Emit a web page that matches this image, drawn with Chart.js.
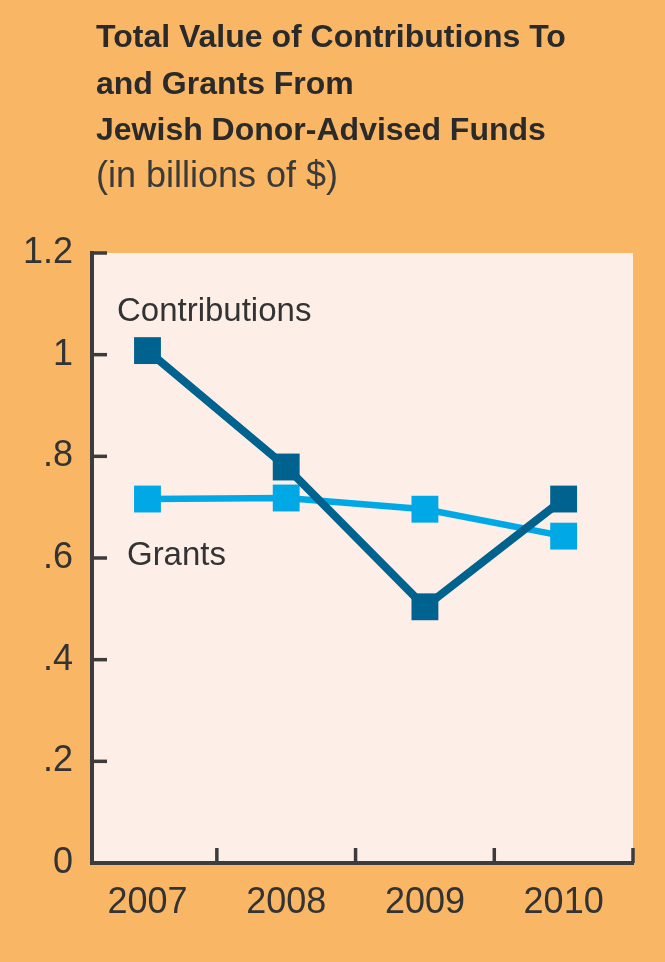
<!DOCTYPE html>
<html>
<head>
<meta charset="utf-8">
<script src="https://cdn.jsdelivr.net/npm/chart.js@4.4.1/dist/chart.umd.min.js"></script>
<style>
html, body { margin: 0; padding: 0; background: #F9B766; }
#wrap { position: relative; width: 665px; height: 962px; }
</style>
</head>
<body>
<div id="wrap"><canvas id="c"></canvas></div>
<script>
// ---- data ----
const years = ['2007', '2008', '2009', '2010'];
const contributions = [1.008, 0.779, 0.504, 0.716];
const grants = [0.716, 0.718, 0.696, 0.643];
const yTickValues = [0, 0.2, 0.4, 0.6, 0.8, 1.0, 1.2];
const yTickLabels = ['0', '.2', '.4', '.6', '.8', '1', '1.2'];
const titleLines = ['Total Value of Contributions To', 'and Grants From', 'Jewish Donor-Advised Funds'];
const subtitleText = '(in billions of $)';
const seriesNames = ['Contributions', 'Grants'];

// ---- style ----
const ORANGE = '#F9B766';
const PINK = '#FDEEE8';
const DARK = '#00628E';
const LIGHT = '#00A8E6';
const AXIS = '#3c3c3c';
const TEXT = '#333333';
const SANS = '"Liberation Sans", Arial, sans-serif';
const NARROW = '"Liberation Sans Narrow", "Arial Narrow", "Liberation Sans", sans-serif';

const decorPlugin = {
  id: 'decor',
  beforeDraw(chart) {
    const { ctx, chartArea: a } = chart;
    ctx.save();
    ctx.fillStyle = PINK;
    ctx.fillRect(a.left, a.top, a.right - a.left, a.bottom - a.top);
    ctx.restore();
  },
  afterDraw(chart) {
    const { ctx, chartArea: a, scales } = chart;
    const xs = scales.x, ys = scales.y;
    ctx.save();
    // inward tick marks
    ctx.strokeStyle = AXIS;
    ctx.lineWidth = 3.5;
    ctx.lineCap = 'butt';
    yTickValues.forEach(v => {
      if (v === 0) return;
      const y = ys.getPixelForValue(v);
      ctx.beginPath();
      ctx.moveTo(a.left, y);
      ctx.lineTo(a.left + 15, y);
      ctx.stroke();
    });
    years.forEach((_, i) => {
      const x = xs.getPixelForValue(i + 0.5);
      ctx.beginPath();
      ctx.moveTo(x, a.bottom);
      ctx.lineTo(x, a.bottom - 15);
      ctx.stroke();
    });

    // title
    ctx.fillStyle = '#2a2a2a';
    ctx.textAlign = 'left';
    ctx.textBaseline = 'alphabetic';
    let titleFont = 'bold 38px ' + NARROW;
    ctx.font = titleFont;
    const wNarrow = ctx.measureText(titleLines[0]).width;
    if (wNarrow > 520) { titleFont = 'bold 32px ' + SANS; }
    ctx.font = titleFont;
    const baselines = [47, 94, 140];
    titleLines.forEach((t, i) => ctx.fillText(t, 96, baselines[i]));
    ctx.fillStyle = '#3a3a3a';
    ctx.font = '36px ' + SANS;
    ctx.fillText(subtitleText, 96, 187);

    // series labels
    ctx.font = '33px ' + SANS;
    ctx.fillStyle = TEXT;
    const anchors = chart.options.plugins.decor.anchors;
    anchors.forEach((p, i) => {
      ctx.fillText(seriesNames[i], xs.getPixelForValue(p.x), ys.getPixelForValue(p.y));
    });
    ctx.restore();
  }
};

new Chart(document.getElementById('c'), {
  type: 'line',
  data: {
    datasets: [
      {
        label: seriesNames[0],
        data: contributions.map((v, i) => ({ x: i, y: v })),
        borderColor: DARK,
        backgroundColor: DARK,
        borderWidth: 8,
        pointStyle: 'rect',
        pointRadius: 19,
        pointHoverRadius: 19,
        pointBorderWidth: 0,
        tension: 0,
        clip: false
      },
      {
        label: seriesNames[1],
        data: grants.map((v, i) => ({ x: i, y: v })),
        borderColor: LIGHT,
        backgroundColor: LIGHT,
        borderWidth: 6.5,
        pointStyle: 'rect',
        pointRadius: 19,
        pointHoverRadius: 19,
        pointBorderWidth: 0,
        tension: 0,
        clip: false
      }
    ]
  },
  options: {
    responsive: true,
    maintainAspectRatio: false,
    animation: false,
    events: [],
    layout: { padding: { top: 253, right: 32, left: 0, bottom: 0 } },
    plugins: {
      legend: { display: false },
      tooltip: { enabled: false },
      title: { display: false },
      decor: { anchors: [{ x: -0.22, y: 1.066 }, { x: -0.148, y: 0.586 }] }
    },
    scales: {
      x: {
        type: 'linear',
        min: -0.4,
        max: 3.5,
        afterBuildTicks: s => { s.ticks = years.map((_, i) => ({ value: i })); },
        afterFit: s => { s.height = 99; },
        grid: { display: false, drawTicks: false },
        border: { display: true, color: AXIS, width: 4 },
        ticks: {
          autoSkip: false,
          maxRotation: 0,
          padding: 22,
          color: TEXT,
          font: { family: SANS, size: 36, lineHeight: 1 },
          callback: v => years[Math.round(v)]
        }
      },
      y: {
        min: 0,
        max: 1.2,
        afterBuildTicks: s => { s.ticks = yTickValues.map(v => ({ value: v })); },
        afterFit: s => { s.width = 92; },
        grid: { display: false, drawTicks: false },
        border: { display: true, color: AXIS, width: 4 },
        ticks: {
          padding: 19,
          color: TEXT,
          font: { family: SANS, size: 36, lineHeight: 1 },
          callback: v => {
            let best = 0;
            yTickValues.forEach((t, i) => { if (Math.abs(t - v) < Math.abs(yTickValues[best] - v)) best = i; });
            return yTickLabels[best];
          }
        }
      }
    }
  },
  plugins: [decorPlugin]
});
</script>
</body>
</html>
